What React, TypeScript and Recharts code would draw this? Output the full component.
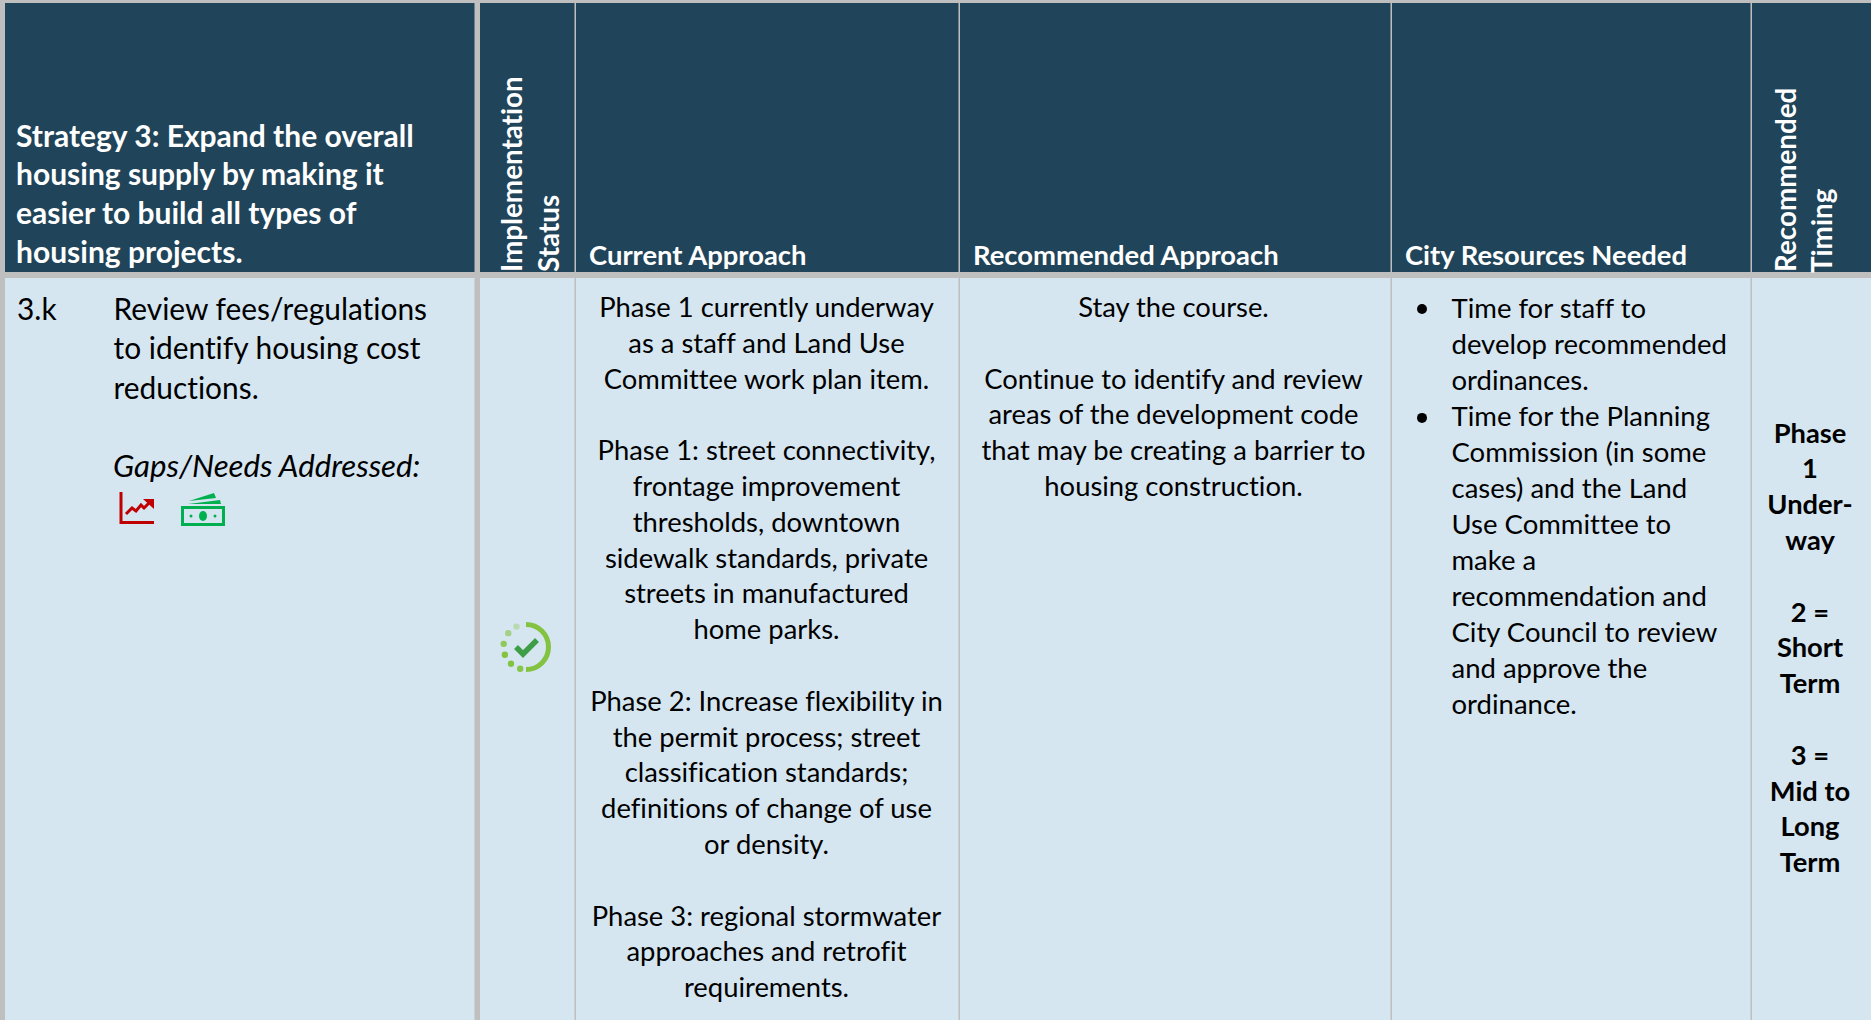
import React from "react";
import { ScatterChart, Scatter, XAxis, YAxis, ReferenceArea } from "recharts";

const W = 1871, H = 1020;
const FONT = "Lato, 'Open Sans', sans-serif";
const HEAD = "#204459", BODY = "#D5E6F0", GRID = "#BFBFBF";

// table content
const titleLines = ["Strategy 3: Expand the overall", "housing supply by making it", "easier to build all types of", "housing projects."];
const verticalHeaders = [["Implementation", "Status"], ["Recommended", "Timing"]];
const columnHeaders = ["Current Approach", "Recommended Approach", "City Resources Needed"];
const itemId = "3.k";
const itemLines = ["Review fees/regulations", "to identify housing cost", "reductions."];
const gapsLabel = "Gaps/Needs Addressed:";
const currentApproach = [
  "Phase 1 currently underway", "as a staff and Land Use", "Committee work plan item.", "",
  "Phase 1: street connectivity,", "frontage improvement", "thresholds, downtown", "sidewalk standards, private", "streets in manufactured", "home parks.", "",
  "Phase 2: Increase flexibility in", "the permit process; street", "classification standards;", "definitions of change of use", "or density.", "",
  "Phase 3: regional stormwater", "approaches and retrofit", "requirements.",
];
const recommendedApproach = ["Stay the course.", "", "Continue to identify and review", "areas of the development code", "that may be creating a barrier to", "housing construction."];
const cityResources = [
  "Time for staff to", "develop recommended", "ordinances.",
  "Time for the Planning", "Commission (in some", "cases) and the Land", "Use Committee to", "make a", "recommendation and", "City Council to review", "and approve the", "ordinance.",
];
const bulletLineIndexes = [0, 3];
const timing = ["Phase", "1", "Under-", "way", "", "2 =", "Short", "Term", "", "3 =", "Mid to", "Long", "Term"];

// layout grid of the table
const headerRow = { y1: 3, y2: 272 };
const bodyRow = { y1: 278, y2: 1020 };
const cols = [
  { x1: 5, x2: 474.5 },
  { x1: 480, x2: 574.5 },
  { x1: 576, x2: 958.5 },
  { x1: 960, x2: 1390.5 },
  { x1: 1392, x2: 1750.5 },
  { x1: 1752, x2: 1871 },
];

type P = { x: number; y: number; text: string };
const stack = (lines: string[], x: number, y0: number, dy: number): P[] =>
  lines.map((text, i) => ({ x, y: y0 + i * dy, text })).filter((p) => p.text !== "");

const LH = 35.8;
const titlePts = stack(titleLines, 16, 146.5, 38.9);
const headPts: P[] = [
  { x: 589, y: 264.5, text: columnHeaders[0] },
  { x: 973, y: 264.5, text: columnHeaders[1] },
  { x: 1405, y: 264.5, text: columnHeaders[2] },
];
const vertPts: P[] = [
  { x: 521.5, y: 272, text: verticalHeaders[0][0] },
  { x: 558.5, y: 272, text: verticalHeaders[0][1] },
  { x: 1795.5, y: 272, text: verticalHeaders[1][0] },
  { x: 1831.5, y: 273, text: verticalHeaders[1][1] },
];
const leftPts: P[] = [{ x: 17, y: 319.5, text: itemId }, ...stack(itemLines, 113.5, 319.5, 39.7)];
const gapsPts: P[] = [{ x: 113, y: 476.5, text: gapsLabel }];
const centerPts: P[] = [
  ...stack(currentApproach, 766.5, 317, LH),
  ...stack(recommendedApproach, 1173.5, 317, LH),
];
const cityPts = stack(cityResources, 1451.5, 318, 36);
const bulletPts: P[] = bulletLineIndexes.map((i) => ({ x: 1422, y: 309 + i * 36.3, text: "" }));
const timingPts = stack(timing, 1810, 442.5, LH);
const chartIcon = [{ x: 137, y: 508 }];
const moneyIcon = [{ x: 203, y: 510 }];
const statusIcon = [{ x: 526, y: 647 }];

const textShape = (o: { size: number; fill: string; weight?: number; anchor?: string; italic?: boolean; rotate?: boolean }) => (p: any) => (
  <text
    x={p.cx}
    y={p.cy}
    fontFamily={FONT}
    fontSize={o.size}
    fontWeight={o.weight ?? 400}
    fontStyle={o.italic ? "italic" : "normal"}
    fill={o.fill}
    textAnchor={o.anchor ?? "start"}
    style={{ fontVariantLigatures: "none" }}
    transform={o.rotate ? `rotate(-90 ${p.cx} ${p.cy})` : undefined}
  >
    {p.payload.text}
  </text>
);

const bulletShape = (p: any) => <circle cx={p.cx} cy={p.cy} r={5} fill="#000" />;

const chartShape = (p: any) => (
  <g transform={`translate(${p.cx} ${p.cy})`} fill="none" stroke="#C00000">
    <path d="M-16 -16 V14.5 H17" strokeWidth={3} />
    <path d="M-11 6 L-5 0 L-1 3 L4 -3 L7 0 L13 -6" strokeWidth={3} />
    <path d="M6 -9 H17 V1 Z" fill="#C00000" stroke="none" />
  </g>
);

const moneyShape = (p: any) => (
  <g transform={`translate(${p.cx} ${p.cy})`}>
    <path d="M-22 -4 H22 V16 H-22 Z M-19 -1 V13 H19 V-1 Z" fill="#00B050" fillRule="evenodd" />
    <ellipse cx={0} cy={6} rx={4} ry={5} fill="#00B050" />
    <circle cx={-12} cy={6} r={1.5} fill="#00B050" />
    <circle cx={12} cy={6} r={1.5} fill="#00B050" />
    <path d="M-15 -6 L17 -10 L18 -6 Z" fill="#00B050" />
    <path d="M-14 -9 L11 -17 L13 -12 Z" fill="#00B050" />
  </g>
);

const dots = [
  { a: 195, o: 0.95 }, { a: 222, o: 1 }, { a: 250, o: 1 }, { a: 278, o: 0.85 }, { a: 308, o: 0.6 }, { a: 335, o: 0.35 },
];
const statusShape = (p: any) => (
  <g transform={`translate(${p.cx} ${p.cy})`}>
    <path d="M0 -22.5 A22.5 22.5 0 0 1 0 22.5" fill="none" stroke="#84C341" strokeWidth={5} />
    {dots.map((d, i) => {
      const r = (d.a * Math.PI) / 180;
      return <circle key={i} cx={22.5 * Math.sin(r)} cy={-22.5 * Math.cos(r)} r={3.2} fill="#84C341" opacity={d.o} />;
    })}
    <path d="M-10 0 L-3 7 L11 -7" fill="none" stroke="#3E9E48" strokeWidth={5.5} />
  </g>
);

export default function App() {
  return (
    <div style={{ position: "absolute", left: 0, top: 0, width: W, height: H, overflow: "hidden", background: GRID }}>
      <ScatterChart width={W} height={H} margin={{ top: 0, right: 0, bottom: 0, left: 0 }}>
        <XAxis type="number" dataKey="x" domain={[0, W]} hide />
        <YAxis type="number" dataKey="y" domain={[0, H]} reversed hide />
        {cols.map((c, i) => (
          <ReferenceArea key={`h${i}`} x1={c.x1} x2={c.x2} y1={headerRow.y1} y2={headerRow.y2} fill={HEAD} fillOpacity={1} stroke="none" />
        ))}
        {cols.map((c, i) => (
          <ReferenceArea key={`b${i}`} x1={c.x1} x2={c.x2} y1={bodyRow.y1} y2={bodyRow.y2} fill={BODY} fillOpacity={1} stroke="none" />
        ))}
        <Scatter data={titlePts} isAnimationActive={false} shape={textShape({ size: 30, fill: "#fff", weight: 700 })} />
        <Scatter data={headPts} isAnimationActive={false} shape={textShape({ size: 27.4, fill: "#fff", weight: 700 })} />
        <Scatter data={vertPts} isAnimationActive={false} shape={textShape({ size: 27.8, fill: "#fff", weight: 700, rotate: true })} />
        <Scatter data={leftPts} isAnimationActive={false} shape={textShape({ size: 29.9, fill: "#000" })} />
        <Scatter data={gapsPts} isAnimationActive={false} shape={textShape({ size: 31.2, fill: "#000", italic: true })} />
        <Scatter data={centerPts} isAnimationActive={false} shape={textShape({ size: 27.4, fill: "#000", anchor: "middle" })} />
        <Scatter data={cityPts} isAnimationActive={false} shape={textShape({ size: 27.5, fill: "#000" })} />
        <Scatter data={bulletPts} isAnimationActive={false} shape={bulletShape} />
        <Scatter data={timingPts} isAnimationActive={false} shape={textShape({ size: 27.3, fill: "#000", weight: 700, anchor: "middle" })} />
        <Scatter data={chartIcon} isAnimationActive={false} shape={chartShape} />
        <Scatter data={moneyIcon} isAnimationActive={false} shape={moneyShape} />
        <Scatter data={statusIcon} isAnimationActive={false} shape={statusShape} />
      </ScatterChart>
    </div>
  );
}
